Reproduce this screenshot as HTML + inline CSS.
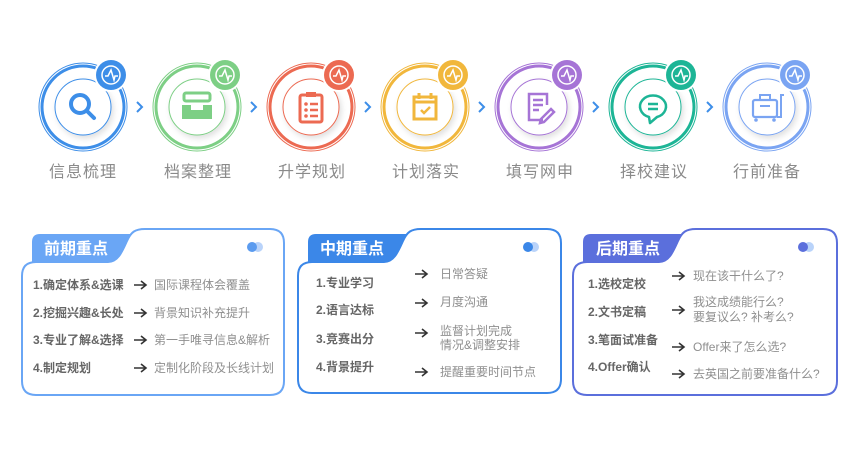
<!DOCTYPE html>
<html><head><meta charset="utf-8"><style>
html,body{margin:0;padding:0;background:#fff;}
svg{display:block;font-family:"Liberation Sans","Noto Sans CJK SC",sans-serif;}
.lab{font-size:16px;fill:#8a8a8a;letter-spacing:1px;}
.l{font-size:12px;fill:#666;font-weight:600;}
.r{font-size:12px;fill:#8f8f8f;}
.tab{font-size:16px;fill:#fff;font-weight:bold;}
.arw{fill:none;stroke:#333;stroke-width:1.6;}
</style></head><body>
<svg width="850" height="449" viewBox="0 0 850 449" xmlns="http://www.w3.org/2000/svg">
<defs>
<filter id="sh" x="-30%" y="-30%" width="160%" height="160%"><feDropShadow dx="2" dy="3" stdDeviation="3" flood-color="#000" flood-opacity="0.12"/></filter>
<path id="a" d="M0,0 H12 M7,-4 L12,0 L7,4" class="arw"/>
</defs>

<g transform="translate(83,107)">
<circle r="44" fill="none" stroke="#3d8ee8" stroke-width="1"/>
<circle r="41" fill="#fff" stroke="#3d8ee8" stroke-width="3"/>
<circle r="28" fill="#fff" stroke="#3d8ee8" stroke-width="1" filter="url(#sh)"/>
<circle cx="-3" cy="-3" r="9" fill="none" stroke="#3d8ee8" stroke-width="4"/>
<line x1="4" y1="4" x2="11" y2="11" stroke="#3d8ee8" stroke-width="4" stroke-linecap="round"/>
<circle cx="28" cy="-32" r="17" fill="#fff"/><circle cx="28" cy="-32" r="15" fill="#3d8ee8"/>
<circle cx="28" cy="-32" r="9" fill="none" stroke="#fff" stroke-width="1.5"/>
<path d="M22,-31 H25 L28,-37 L31,-27 L32,-31 H35" fill="none" stroke="#fff" stroke-width="1.5"/>
</g>
<path d="M137,102 L142,107 L137,112" fill="none" stroke="#3d8ee8" stroke-width="2"/>
<g transform="translate(197,107)">
<circle r="44" fill="none" stroke="#7dcf85" stroke-width="1"/>
<circle r="41" fill="#fff" stroke="#7dcf85" stroke-width="3"/>
<circle r="28" fill="#fff" stroke="#7dcf85" stroke-width="1" filter="url(#sh)"/>
<rect x="-13" y="-14" width="26" height="8" rx="2" fill="none" stroke="#7dcf85" stroke-width="3"/>
<path d="M-15,-2 H-6 V3 H6 V-2 H15 V12 H-15 Z" fill="#7dcf85"/>
<circle cx="28" cy="-32" r="17" fill="#fff"/><circle cx="28" cy="-32" r="15" fill="#7dcf85"/>
<circle cx="28" cy="-32" r="9" fill="none" stroke="#fff" stroke-width="1.5"/>
<path d="M22,-31 H25 L28,-37 L31,-27 L32,-31 H35" fill="none" stroke="#fff" stroke-width="1.5"/>
</g>
<path d="M251,102 L256,107 L251,112" fill="none" stroke="#3d8ee8" stroke-width="2"/>
<g transform="translate(311,107)">
<circle r="44" fill="none" stroke="#ec6a52" stroke-width="1"/>
<circle r="41" fill="#fff" stroke="#ec6a52" stroke-width="3"/>
<circle r="28" fill="#fff" stroke="#ec6a52" stroke-width="1" filter="url(#sh)"/>
<rect x="-11" y="-12" width="22" height="27" rx="2" fill="none" stroke="#ec6a52" stroke-width="3"/>
<rect x="-5" y="-15" width="10" height="5" fill="#ec6a52"/>
<circle cx="-5" cy="-3" r="1.8" fill="#ec6a52"/><circle cx="-5" cy="3" r="1.8" fill="#ec6a52"/><circle cx="-5" cy="9" r="1.8" fill="#ec6a52"/>
<path d="M-1,-3 H7 M-1,3 H7 M-1,9 H7" stroke="#ec6a52" stroke-width="2.5"/>
<circle cx="28" cy="-32" r="17" fill="#fff"/><circle cx="28" cy="-32" r="15" fill="#ec6a52"/>
<circle cx="28" cy="-32" r="9" fill="none" stroke="#fff" stroke-width="1.5"/>
<path d="M22,-31 H25 L28,-37 L31,-27 L32,-31 H35" fill="none" stroke="#fff" stroke-width="1.5"/>
</g>
<path d="M365,102 L370,107 L365,112" fill="none" stroke="#3d8ee8" stroke-width="2"/>
<g transform="translate(425,107)">
<circle r="44" fill="none" stroke="#f1b73c" stroke-width="1"/>
<circle r="41" fill="#fff" stroke="#f1b73c" stroke-width="3"/>
<circle r="28" fill="#fff" stroke="#f1b73c" stroke-width="1" filter="url(#sh)"/>
<rect x="-11" y="-10" width="22" height="22" fill="none" stroke="#f1b73c" stroke-width="3"/>
<path d="M-11,-5 H11 M-6,-14 V-8 M6,-14 V-8" stroke="#f1b73c" stroke-width="3"/>
<path d="M-4,3 L-1,6 L5,0" fill="none" stroke="#f1b73c" stroke-width="2.5"/>
<circle cx="28" cy="-32" r="17" fill="#fff"/><circle cx="28" cy="-32" r="15" fill="#f1b73c"/>
<circle cx="28" cy="-32" r="9" fill="none" stroke="#fff" stroke-width="1.5"/>
<path d="M22,-31 H25 L28,-37 L31,-27 L32,-31 H35" fill="none" stroke="#fff" stroke-width="1.5"/>
</g>
<path d="M479,102 L484,107 L479,112" fill="none" stroke="#3d8ee8" stroke-width="2"/>
<g transform="translate(539,107)">
<circle r="44" fill="none" stroke="#a674d6" stroke-width="1"/>
<circle r="41" fill="#fff" stroke="#a674d6" stroke-width="3"/>
<circle r="28" fill="#fff" stroke="#a674d6" stroke-width="1" filter="url(#sh)"/>
<path d="M4,13 H-10 V-13 H8 V-2" fill="none" stroke="#a674d6" stroke-width="2.5"/>
<path d="M-6,-7 H4 M-6,-2 H4 M-6,3 H0" stroke="#a674d6" stroke-width="2.5"/>
<path d="M2,12 L12,2 L15,5 L5,15 L1,16 Z" fill="none" stroke="#a674d6" stroke-width="2.5"/>
<circle cx="28" cy="-32" r="17" fill="#fff"/><circle cx="28" cy="-32" r="15" fill="#a674d6"/>
<circle cx="28" cy="-32" r="9" fill="none" stroke="#fff" stroke-width="1.5"/>
<path d="M22,-31 H25 L28,-37 L31,-27 L32,-31 H35" fill="none" stroke="#fff" stroke-width="1.5"/>
</g>
<path d="M593,102 L598,107 L593,112" fill="none" stroke="#3d8ee8" stroke-width="2"/>
<g transform="translate(653,107)">
<circle r="44" fill="none" stroke="#1db596" stroke-width="1"/>
<circle r="41" fill="#fff" stroke="#1db596" stroke-width="3"/>
<circle r="28" fill="#fff" stroke="#1db596" stroke-width="1" filter="url(#sh)"/>
<path d="M-4,10 A13,11 0 1 1 4,10 L-3,16 Z" fill="none" stroke="#1db596" stroke-width="2.5" stroke-linejoin="round"/>
<path d="M-5,-3 H5 M-5,2 H5" stroke="#1db596" stroke-width="2.5"/>
<circle cx="28" cy="-32" r="17" fill="#fff"/><circle cx="28" cy="-32" r="15" fill="#1db596"/>
<circle cx="28" cy="-32" r="9" fill="none" stroke="#fff" stroke-width="1.5"/>
<path d="M22,-31 H25 L28,-37 L31,-27 L32,-31 H35" fill="none" stroke="#fff" stroke-width="1.5"/>
</g>
<path d="M707,102 L712,107 L707,112" fill="none" stroke="#3d8ee8" stroke-width="2"/>
<g transform="translate(767,107)">
<circle r="44" fill="none" stroke="#7aa4f2" stroke-width="1"/>
<circle r="41" fill="#fff" stroke="#7aa4f2" stroke-width="3"/>
<circle r="28" fill="#fff" stroke="#7aa4f2" stroke-width="1" filter="url(#sh)"/>
<rect x="-14" y="-7" width="24" height="17" rx="2" fill="none" stroke="#7aa4f2" stroke-width="2.2"/>
<rect x="-7" y="-12" width="10" height="5" fill="none" stroke="#7aa4f2" stroke-width="2"/>
<path d="M-7,-1 H3 M10,10 H14 V-12 H17" fill="none" stroke="#7aa4f2" stroke-width="2"/>
<circle cx="-11" cy="13" r="1.8" fill="#7aa4f2"/><circle cx="7" cy="13" r="1.8" fill="#7aa4f2"/>
<circle cx="28" cy="-32" r="17" fill="#fff"/><circle cx="28" cy="-32" r="15" fill="#7aa4f2"/>
<circle cx="28" cy="-32" r="9" fill="none" stroke="#fff" stroke-width="1.5"/>
<path d="M22,-31 H25 L28,-37 L31,-27 L32,-31 H35" fill="none" stroke="#fff" stroke-width="1.5"/>
</g>

<g class="lab" text-anchor="middle">
<text x="83" y="177">信息梳理</text>
<text x="198" y="177">档案整理</text>
<text x="312" y="177">升学规划</text>
<text x="426" y="177">计划落实</text>
<text x="540" y="177">填写网申</text>
<text x="654" y="177">择校建议</text>
<text x="767" y="177">行前准备</text>
</g>

<!-- Card 1 -->
<path d="M36,262 H108 C118,262 122,252 127,241 C131,232 135,229 145,229 H270 Q284,229 284,243 V381 Q284,395 270,395 H36 Q22,395 22,381 V276 Q22,262 36,262 Z" fill="#fff" stroke="#6aa6f5" stroke-width="2"/>
<path d="M32,263 V242 Q32,234 40,234 H131 C125,244 122,262 108,262 Z" fill="#6aa6f5"/>
<text class="tab" x="44" y="254">前期重点</text>
<circle cx="258" cy="247" r="5" fill="#b9d3fa"/><circle cx="252" cy="247" r="5" fill="#5b9bef"/>
<text class="l" x="33" y="289">1.确定体系&amp;选课</text>
<text class="l" x="33" y="317">2.挖掘兴趣&amp;长处</text>
<text class="l" x="33" y="344">3.专业了解&amp;选择</text>
<text class="l" x="33" y="372">4.制定规划</text>
<use href="#a" x="134" y="285"/><use href="#a" x="134" y="313"/><use href="#a" x="134" y="340"/><use href="#a" x="134" y="368"/>
<text class="r" x="154" y="289">国际课程体会覆盖</text>
<text class="r" x="154" y="317">背景知识补充提升</text>
<text class="r" x="154" y="344">第一手唯寻信息&amp;解析</text>
<text class="r" x="154" y="372">定制化阶段及长线计划</text>

<!-- Card 2 -->
<path d="M312,262 H384 C394,262 398,252 403,241 C407,232 411,229 421,229 H547 Q561,229 561,243 V379 Q561,393 547,393 H312 Q298,393 298,379 V276 Q298,262 312,262 Z" fill="#fff" stroke="#3b87e8" stroke-width="2"/>
<path d="M308,263 V242 Q308,234 316,234 H407 C401,244 398,262 384,262 Z" fill="#3b87e8"/>
<text class="tab" x="320" y="254">中期重点</text>
<circle cx="534" cy="247" r="5" fill="#b9d3fa"/><circle cx="528" cy="247" r="5" fill="#3b87e8"/>
<text class="l" x="316" y="287">1.专业学习</text>
<text class="l" x="316" y="314">2.语言达标</text>
<text class="l" x="316" y="343">3.竞赛出分</text>
<text class="l" x="316" y="371">4.背景提升</text>
<use href="#a" x="415" y="274"/><use href="#a" x="415" y="303"/><use href="#a" x="415" y="333"/><use href="#a" x="415" y="372"/>
<text class="r" x="440" y="278">日常答疑</text>
<text class="r" x="440" y="306">月度沟通</text>
<text class="r" x="440" y="335">监督计划完成</text>
<text class="r" x="440" y="349">情况&amp;调整安排</text>
<text class="r" x="440" y="376">提醒重要时间节点</text>

<!-- Card 3 -->
<path d="M587,262 H659 C669,262 673,252 678,241 C682,232 686,229 696,229 H823 Q837,229 837,243 V381 Q837,395 823,395 H587 Q573,395 573,381 V276 Q573,262 587,262 Z" fill="#fff" stroke="#5b6fdc" stroke-width="2"/>
<path d="M583,263 V242 Q583,234 591,234 H682 C676,244 673,262 659,262 Z" fill="#5b6fdc"/>
<text class="tab" x="596" y="254">后期重点</text>
<circle cx="809" cy="247" r="5" fill="#b9d3fa"/><circle cx="803" cy="247" r="5" fill="#5b6fdc"/>
<text class="l" x="588" y="288">1.选校定校</text>
<text class="l" x="588" y="316">2.文书定稿</text>
<text class="l" x="588" y="344">3.笔面试准备</text>
<text class="l" x="588" y="371">4.Offer确认</text>
<use href="#a" x="672" y="276"/><use href="#a" x="672" y="310"/><use href="#a" x="672" y="347"/><use href="#a" x="672" y="374"/>
<text class="r" x="693" y="280">现在该干什么了?</text>
<text class="r" x="693" y="306">我这成绩能行么?</text>
<text class="r" x="693" y="321">要复议么? 补考么?</text>
<text class="r" x="693" y="351">Offer来了怎么选?</text>
<text class="r" x="693" y="378">去英国之前要准备什么?</text>
</svg>
</body></html>
